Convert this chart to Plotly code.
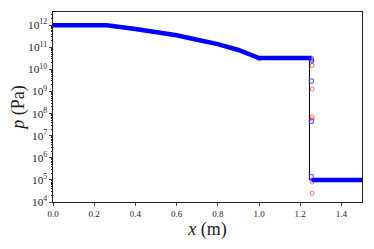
import plotly.graph_objects as go

# exact solution
x_exact = [0.0, 0.26, 0.4, 0.5, 0.6, 0.7, 0.8, 0.9, 0.95, 1.0, 1.245, 1.245, 1.5]
p_exact = [1e12, 1e12, 6.8e11, 5.0e11, 3.5e11, 2.2e11, 1.4e11, 7.6e10, 5.2e10, 3.3e10, 3.3e10, 1e5, 1e5]

# numerical solution (thick blue)
x_num = [0.0, 0.26, 0.4, 0.5, 0.6, 0.7, 0.8, 0.9, 0.95, 1.0, 1.255]
p_num = [1e12, 1e12, 6.8e11, 5.0e11, 3.5e11, 2.2e11, 1.4e11, 7.6e10, 5.2e10, 3.3e10, 3.3e10]
x_num_r = [1.255, 1.5]
p_num_r = [1e5, 1e5]

# scattered points across the shock
x_sq = [1.254, 1.254, 1.254, 1.254, 1.254]
p_sq = [3.0e10, 2.4e10, 3.0e9, 4.5e7, 1.4e5]
x_ci = [1.258, 1.258, 1.258, 1.258, 1.258, 1.258, 1.258, 1.0]
p_ci = [2.4e10, 1.5e10, 1.3e9, 7.0e7, 5.5e7, 8.0e4, 2.5e4, 3.0e10]

fig = go.Figure()
fig.add_trace(go.Scatter(x=x_exact, y=p_exact, mode="lines",
                         line=dict(color="black", width=1)))
fig.add_trace(go.Scatter(x=x_ci, y=p_ci, mode="markers",
                         marker=dict(symbol="circle-open", size=4, color="rgba(255,60,60,0.7)",
                                     line=dict(width=1))))
fig.add_trace(go.Scatter(x=x_num, y=p_num, mode="lines",
                         line=dict(color="#0000ff", width=4.5)))
fig.add_trace(go.Scatter(x=x_num_r, y=p_num_r, mode="lines",
                         line=dict(color="#0000ff", width=4.5)))
fig.add_trace(go.Scatter(x=x_sq, y=p_sq, mode="markers",
                         marker=dict(symbol="square-open", size=4, color="rgba(40,40,255,0.8)",
                                     line=dict(width=1))))

font = "Liberation Serif"
# page body has an 8px margin, so the figure is shifted by 8px
fig.update_layout(
    width=366, height=241,
    margin=dict(l=45, r=12, t=4, b=47),
    plot_bgcolor="white", paper_bgcolor="white",
    showlegend=False,
    font=dict(family=font, color="#222", size=9),
)
fig.update_xaxes(
    range=[0, 1.5], tickvals=[0, 0.2, 0.4, 0.6, 0.8, 1.0, 1.2, 1.4],
    tickformat=".1f", ticks="outside", ticklen=3, showgrid=False, zeroline=False,
    showline=True, linecolor="#222", linewidth=1, mirror=True, automargin=False,
    tickfont=dict(family=font, color="#222", size=9),
    title=dict(text="<i>x</i> (m)", font=dict(size=18, family=font, color="#222"), standoff=3),
)
fig.update_yaxes(
    type="log", range=[4, 12.6], dtick=1, exponentformat="power",
    ticks="outside", ticklen=3, showgrid=False, zeroline=False,
    showline=True, linecolor="#222", linewidth=1, mirror=True, automargin=False,
    tickfont=dict(family=font, color="#222", size=9),
    minor=dict(ticks="outside", ticklen=1.5, dtick="D1", tickcolor="#222"),
    title=dict(text="<i>p</i> (Pa)", font=dict(size=18, family=font, color="#222"), standoff=3),
)
fig.write_html("out.html")
